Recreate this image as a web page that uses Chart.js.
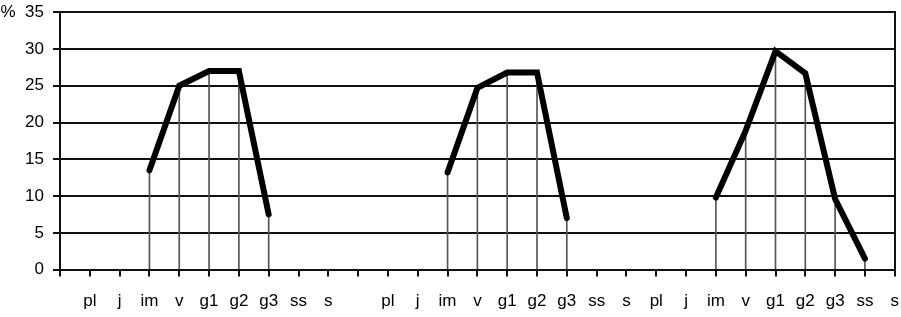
<!DOCTYPE html>
<html>
<head>
<meta charset="utf-8">
<script src="https://cdn.jsdelivr.net/npm/chart.js@4"></script>
<style>
  html, body { margin: 0; padding: 0; background: #fff; overflow: hidden; }
  #wrap { width: 914px; height: 326px; margin-top: -7px; }
</style>
</head>
<body>
<div id="wrap"><canvas id="lineChart"></canvas></div>
<script>
// category labels, empty slots are just spacing on the axis
var labels = ['', 'pl', 'j', 'im', 'v', 'g1', 'g2', 'g3', 'ss', 's',
              '', 'pl', 'j', 'im', 'v', 'g1', 'g2', 'g3', 'ss', 's',
              'pl', 'j', 'im', 'v', 'g1', 'g2', 'g3', 'ss', 's'];

// % values (null = no point)
var series = [null, null, null, 13.5, 25, 27, 27, 7.5, null, null,
              null, null, null, 13.2, 24.7, 26.8, 26.8, 7, null, null,
              null, null, 9.8, 18.9, 29.7, 26.7, 9.6, 1.5, null];

var yTicks = [0, 5, 10, 15, 20, 25, 30, 35];

var ink = '#111';

var ctx = document.getElementById('lineChart').getContext('2d');
Chart.defaults.font.family = '"Liberation Sans", Arial, sans-serif';
Chart.defaults.font.size = 17;
Chart.defaults.color = '#000';

new Chart(ctx, {
    data: {
        labels: labels,
        datasets: [
            {
                type: 'line',
                data: series,
                borderColor: '#000',
                borderWidth: 6,
                borderCapStyle: 'round',
                borderJoinStyle: 'miter',
                pointRadius: 0,
                spanGaps: false,
                tension: 0,
                order: 0
            },
            {
                // thin drop lines under each point
                type: 'bar',
                data: series,
                backgroundColor: '#555',
                barThickness: 1,
                order: 1
            }
        ]
    },
    options: {
        responsive: true,
        maintainAspectRatio: false,
        animation: false,
        layout: { padding: { top: -5, bottom: -8, right: 0 } },
        plugins: { legend: { display: false }, tooltip: { enabled: false } },
        scales: {
            x: {
                type: 'category',
                offset: false,
                grid: { offset: false, drawOnChartArea: false, drawTicks: true, tickLength: 7, color: ink, lineWidth: 2 },
                border: { display: true, color: ink, width: 2 },
                ticks: { autoSkip: false, maxRotation: 0, padding: 15 }
            },
            y: {
                min: 0,
                max: 35,
                afterBuildTicks: function (scale) {
                    scale.ticks = yTicks.map(function (v) { return { value: v }; });
                },
                afterFit: function (scale) { scale.width = 60; },
                grid: { color: ink, lineWidth: 2, tickLength: 7 },
                border: { display: true, color: ink, width: 2 },
                ticks: {
                    padding: 9,
                    callback: function (v) { return v === 35 ? '%  35' : String(v); }
                }
            },
            y2: {
                position: 'right',
                display: true,
                afterFit: function (scale) { scale.width = 0; },
                grid: { display: false, drawTicks: false },
                border: { display: true, color: ink, width: 2 },
                ticks: { display: false }
            }
        }
    }
});
</script>
</body>
</html>
